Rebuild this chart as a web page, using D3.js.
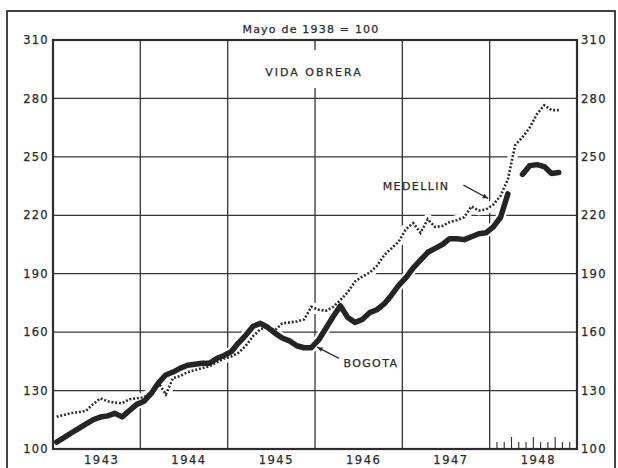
<!DOCTYPE html>
<html>
<head>
    <meta charset="utf-8">
    <title>Vida obrera - Bogota y Medellin</title>
    <script src="https://d3js.org/d3.v7.min.js"></script>
    <style>
        html, body {
            margin: 0;
            background: white;
        }
        text {
            font-family: "DejaVu Sans", sans-serif;
            fill: #2b2b2b;
            stroke: #2b2b2b;
            stroke-width: 0.25px;
        }
    </style>
</head>
<body>
    <svg id="svg"></svg>
    <script>
        // indice mensual, mayo de 1938 = 100, ene 1943 .. oct 1948
        const years = ["1943", "1944", "1945", "1946", "1947", "1948"];
        const yTicks = [100, 130, 160, 190, 220, 250, 280, 310];

        const bogota = [
            103.5, 105.8, 108.2, 110.5, 112.8, 115, 116.4, 117, 118.3, 116.5, 119.7, 122.9,
            124.5, 128.5, 134, 138, 139.5, 141.5, 143, 143.5, 144, 144, 146.5, 148,
            150, 154.5, 158.5, 163, 164.5, 162.5, 159.5, 157, 155.5, 153, 152, 152,
            156, 162, 168, 173.5, 167.5, 165, 166.5, 170, 171.5, 174.5, 179, 184,
            188, 193, 197, 201, 203, 205, 208, 208, 207.5, 209, 210.5, 211,
            214, 219, 231, null, 241, 245.5, 246, 245, 241.5, 242
        ];

        const medellin = [
            116.5, 117.5, 118.5, 119, 119.5, 123, 126, 124.5, 123.8, 123.5, 125.5, 126,
            126.5, 129, 134, 128, 136.5, 137.5, 139.5, 140.5, 141.5, 142.5, 144.5, 146.5,
            147.5, 149.5, 153, 158, 161.5, 162.5, 161, 164.5, 165, 165.5, 166.5, 173,
            171.5, 171, 173, 176.5, 180.5, 186, 188.5, 190.5, 194, 199.5, 203, 206.5,
            213, 216, 211, 218, 214, 214.5, 216.5, 217.5, 219, 224.5, 222.5, 223,
            225.5, 230, 238.5, 256, 260, 265, 272, 276.5, 274, 274
        ];

        // rotulos: texto, posicion (mes, valor) y flecha [mes0, val0, mes1, val1]
        const labels = [
            { text: "MEDELLIN", month: 45.3, value: 233, arrow: [56.4, 235.5, 59.8, 228.6] },
            { text: "BOGOTA", month: 39.9, value: 142, arrow: [39.3, 146.5, 36.3, 152.3] }
        ];

        const width = 618, height = 468;
        const plot = { left: 53, right: 577, top: 40, bottom: 449 };

        const svg = d3.select("#svg")
            .attr("width", width)
            .attr("height", height);

        const x = d3.scaleLinear()
            .domain([0, years.length * 12])
            .range([plot.left, plot.right]);

        const y = d3.scaleLinear()
            .domain([100, 310])
            .range([plot.bottom, plot.top]);

        const ink = "#2e2e2e";

        // marco exterior
        svg.append("rect")
            .attr("x", 7).attr("y", 11)
            .attr("width", 608).attr("height", 470)
            .attr("fill", "none")
            .attr("stroke", ink)
            .attr("stroke-width", 1.8);

        // reticula
        const grid = svg.append("g")
            .attr("stroke", "#353535")
            .attr("stroke-width", 1.3);

        grid.selectAll("line.v")
            .data(d3.range(1, years.length))
            .join("line")
            .attr("class", "v")
            .attr("x1", d => x(d * 12)).attr("x2", d => x(d * 12))
            .attr("y1", plot.top).attr("y2", plot.bottom);

        grid.selectAll("line.h")
            .data(yTicks.slice(1, -1))
            .join("line")
            .attr("class", "h")
            .attr("x1", plot.left).attr("x2", plot.right)
            .attr("y1", d => y(d)).attr("y2", d => y(d));

        // marcas mensuales de 1948
        svg.append("g")
            .attr("stroke", ink)
            .attr("stroke-width", 1.1)
            .selectAll("line")
            .data(d3.range(1, 12))
            .join("line")
            .attr("x1", d => x(60 + d)).attr("x2", d => x(60 + d))
            .attr("y1", plot.bottom)
            .attr("y2", d => plot.bottom - (d % 3 === 0 ? 12 : 7));

        // recuadro del grafico
        svg.append("rect")
            .attr("x", plot.left).attr("y", plot.top)
            .attr("width", plot.right - plot.left)
            .attr("height", plot.bottom - plot.top)
            .attr("fill", "none")
            .attr("stroke", ink)
            .attr("stroke-width", 2.2);

        // titulo interno
        svg.append("rect")
            .attr("x", 256).attr("y", 50)
            .attr("width", 116).attr("height", 38)
            .attr("fill", "white");

        svg.append("text")
            .attr("x", 311).attr("y", 33)
            .attr("text-anchor", "middle")
            .style("font-size", "11px")
            .style("letter-spacing", "1.2px")
            .text("Mayo de 1938 = 100");

        svg.append("text")
            .attr("x", 314).attr("y", 76)
            .attr("text-anchor", "middle")
            .style("font-size", "11px")
            .style("letter-spacing", "2px")
            .text("VIDA OBRERA");

        // ejes
        svg.append("g")
            .selectAll("text")
            .data(yTicks)
            .join("text")
            .attr("x", plot.left - 4)
            .attr("y", d => y(d))
            .attr("dy", "0.36em")
            .attr("text-anchor", "end")
            .style("font-size", "11.5px")
            .style("letter-spacing", "1.3px")
            .text(d => d);

        svg.append("g")
            .selectAll("text")
            .data(yTicks)
            .join("text")
            .attr("x", plot.right + 4)
            .attr("y", d => y(d))
            .attr("dy", "0.36em")
            .style("font-size", "11.5px")
            .style("letter-spacing", "1.3px")
            .text(d => d);

        svg.append("g")
            .selectAll("text")
            .data(years)
            .join("text")
            .attr("x", (d, i) => x(i * 12 + 6) + 5)
            .attr("y", 464)
            .attr("text-anchor", "middle")
            .style("font-size", "11.5px")
            .style("letter-spacing", "1.5px")
            .text(d => d);

        // curvas
        const line = d3.line()
            .defined(d => d != null)
            .x((d, i) => x(i + 0.5))
            .y(d => y(d));

        const curves = svg.append("g");

        [medellin, bogota].forEach(s => {
            curves.append("path")
                .attr("d", line(s))
                .attr("fill", "none")
                .attr("stroke", "white")
                .attr("stroke-width", 10)
                .attr("stroke-linejoin", "round");
        });

        curves.append("path")
            .attr("d", line(medellin))
            .attr("fill", "none")
            .attr("stroke", "#2f2f2f")
            .attr("stroke-width", 2.6)
            .attr("stroke-dasharray", "2,1.8");

        curves.append("path")
            .attr("d", line(bogota))
            .attr("fill", "none")
            .attr("stroke", "#242424")
            .attr("stroke-width", 5.5)
            .attr("stroke-linejoin", "round")
            .attr("stroke-linecap", "round");

        // rotulos con flecha
        labels.forEach(l => {
            svg.append("text")
                .attr("x", x(l.month))
                .attr("y", y(l.value))
                .style("font-size", "11px")
                .style("letter-spacing", "1.4px")
                .text(l.text);

            const [m0, v0, m1, v1] = l.arrow;
            const x0 = x(m0), y0 = y(v0), x1 = x(m1), y1 = y(v1);
            svg.append("line")
                .attr("x1", x0).attr("y1", y0)
                .attr("x2", x1).attr("y2", y1)
                .attr("stroke", ink)
                .attr("stroke-width", 1.3);

            const ang = Math.atan2(y1 - y0, x1 - x0);
            const len = 6, spread = 0.4;
            const head = [
                [x1, y1],
                [x1 - len * Math.cos(ang - spread), y1 - len * Math.sin(ang - spread)],
                [x1 - len * Math.cos(ang + spread), y1 - len * Math.sin(ang + spread)]
            ];
            svg.append("path")
                .attr("d", "M" + head.join("L") + "Z")
                .attr("fill", ink);
        });
    </script>
</body>
</html>
